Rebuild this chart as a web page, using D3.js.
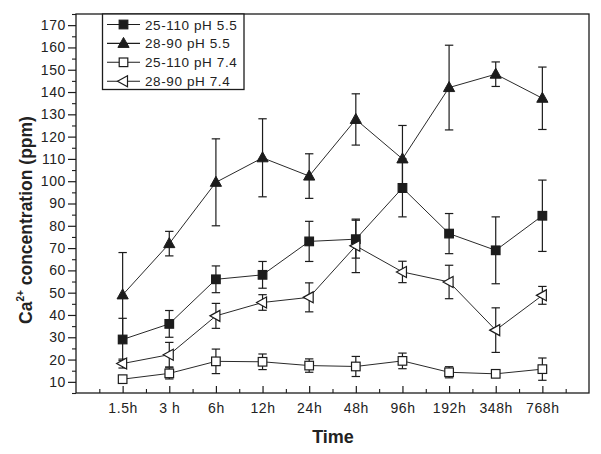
<!DOCTYPE html>
<html><head><meta charset="utf-8">
<script src="https://cdn.jsdelivr.net/npm/d3@7"></script>
<style>body{margin:0;background:#fff}</style>
</head><body>
<script>
const categories = ["1.5h","3 h","6h","12h","24h","48h","96h","192h","348h","768h"];
const seriesNames = ["25-110 pH 5.5","28-90 pH 5.5","25-110 pH 7.4","28-90 pH 7.4"];
const s1 = [29, 36, 56, 58, 73, 74, 97, 76.5, 69, 84.5];
const s1err = [9.5, 6, 6, 6, 9, 8.5, 13, 9, 15, 16];
const s2 = [49, 72, 99.5, 110.5, 102.3, 127.7, 110, 142, 148, 137.2];
const s2err = [19, 5.5, 19.5, 17.5, 10, 11.5, 15, 19, 5.5, 14];
const s3 = [11.2, 13.8, 19.2, 19, 17.3, 16.9, 19.4, 14.3, 13.6, 15.7];
const s3err = [1.5, 2.5, 5.5, 3.5, 3, 4.5, 3.5, 2.5, 1.5, 5];
const s4 = [18.2, 22.2, 39.6, 45.6, 47.9, 71, 59.3, 54.8, 33.2, 48.8];
const s4err = [2, 5.5, 5.6, 3.5, 6.5, 12, 4.8, 7.5, 10, 4];
const yTicks = [10,20,30,40,50,60,70,80,90,100,110,120,130,140,150,160,170];

const W = 601, H = 454;
const svg = d3.select("body").append("svg").attr("width", W).attr("height", H)
  .style("font-family", "'Liberation Sans', Arial, sans-serif");
const L = 76, R = 589, T = 14, B = 393;
const x = d3.scaleLinear().domain([0, 11]).range([L, R]);
const y = d3.scaleLinear().domain([5, 175]).range([B, T]);
const ink = "#1c1c1c";

// frame
svg.append("rect").attr("x", L).attr("y", T).attr("width", R - L).attr("height", B - T)
  .attr("fill", "none").attr("stroke", ink).attr("stroke-width", 1.3);

// y axis (ticks outward)
const yAxis = d3.axisLeft(y).tickValues(yTicks).tickSize(8).tickPadding(2).tickFormat(d3.format("d"));
const gy = svg.append("g").attr("transform", `translate(${L},0)`).call(yAxis);
gy.select(".domain").remove();
gy.selectAll("line").attr("stroke", ink).attr("stroke-width", 1.2);
gy.selectAll("text").attr("font-size", 14).attr("fill", "#222").attr("letter-spacing", 0.6);
const gym = svg.append("g").attr("transform", `translate(${L},0)`)
  .call(d3.axisLeft(y).tickValues(d3.range(5, 176, 10)).tickSize(4).tickFormat(""));
gym.select(".domain").remove();
gym.selectAll("line").attr("stroke", ink).attr("stroke-width", 1.1);

// x axis (ticks inward)
const xIdx = categories.map((c, i) => i + 1);
const xAxis = d3.axisBottom(x).tickValues(xIdx).tickSize(-7).tickPadding(10)
  .tickFormat((d) => categories[d - 1]);
const gx = svg.append("g").attr("transform", `translate(0,${B})`).call(xAxis);
gx.select(".domain").remove();
gx.selectAll("line").attr("stroke", ink).attr("stroke-width", 1.2);
gx.selectAll("text").attr("font-size", 14).attr("fill", "#222").attr("letter-spacing", 0.6);
const gxm = svg.append("g").attr("transform", `translate(0,${B})`)
  .call(d3.axisBottom(x).tickValues(d3.range(0.5, 11, 1)).tickSize(-4).tickFormat(""));
gxm.select(".domain").remove();
gxm.selectAll("line").attr("stroke", ink).attr("stroke-width", 1.1);

// axis titles
svg.append("text").attr("x", 333).attr("y", 443).attr("text-anchor", "middle")
  .attr("font-size", 18).attr("font-weight", "bold").attr("fill", "#222").text("Time");
const yt = svg.append("text").attr("transform", "translate(32,220) rotate(-90)")
  .attr("text-anchor", "middle").attr("font-size", 17.5).attr("font-weight", "bold").attr("fill", "#222");
yt.append("tspan").text("Ca");
yt.append("tspan").attr("font-size", 10).attr("dy", -8).text("2+");
yt.append("tspan").attr("dy", 8).text(" concentration (ppm)");

const series = [
  {vals: s1, err: s1err, shape: "square", fill: ink},
  {vals: s2, err: s2err, shape: "triangle", fill: ink},
  {vals: s3, err: s3err, shape: "square", fill: "#fff"},
  {vals: s4, err: s4err, shape: "ltri", fill: "#fff"}
];

function marker(g, shape, fill, cx, cy) {
  if (shape === "square") {
    g.append("rect").attr("x", cx - 4.3).attr("y", cy - 4.3).attr("width", 8.6).attr("height", 8.6)
      .attr("fill", fill).attr("stroke", ink).attr("stroke-width", 1.2);
  } else if (shape === "triangle") {
    g.append("path").attr("d", `M${cx},${cy - 6} L${cx + 5.6},${cy + 4} L${cx - 5.6},${cy + 4} Z`)
      .attr("fill", fill).attr("stroke", ink).attr("stroke-width", 1);
  } else {
    g.append("path").attr("d", `M${cx - 6},${cy} L${cx + 4},${cy - 5.5} L${cx + 4},${cy + 5.5} Z`)
      .attr("fill", fill).attr("stroke", ink).attr("stroke-width", 1.2);
  }
}

const line = d3.line().x((d, i) => x(i + 1)).y((d) => y(d));
// error bars first
series.forEach((s) => {
  const g = svg.append("g");
  s.vals.forEach((v, i) => {
    const cx = x(i + 1), hi = y(v + s.err[i]), lo = y(v - s.err[i]);
    g.append("line").attr("x1", cx).attr("x2", cx).attr("y1", hi).attr("y2", lo)
      .attr("stroke", ink).attr("stroke-width", 1.2);
    [hi, lo].forEach((yy) => g.append("line").attr("x1", cx - 4.2).attr("x2", cx + 4.2)
      .attr("y1", yy).attr("y2", yy).attr("stroke", ink).attr("stroke-width", 1.2));
  });
});
series.forEach((s) => {
  svg.append("path").datum(s.vals).attr("d", line).attr("fill", "none")
    .attr("stroke", "#2a2a2a").attr("stroke-width", 1);
});
series.forEach((s) => {
  const g = svg.append("g");
  s.vals.forEach((v, i) => marker(g, s.shape, s.fill, x(i + 1), y(v)));
});

// legend
const lg = svg.append("g");
lg.append("rect").attr("x", 102.5).attr("y", T).attr("width", 141.5).attr("height", 75.5)
  .attr("fill", "#fff").attr("stroke", ink).attr("stroke-width", 1.3);
seriesNames.forEach((n, i) => {
  const yy = 24.5 + i * 18.9;
  lg.append("line").attr("x1", 107).attr("x2", 140).attr("y1", yy).attr("y2", yy)
    .attr("stroke", ink).attr("stroke-width", 1.1);
  marker(lg, series[i].shape, series[i].fill, 123.5, yy);
  lg.append("text").attr("x", 145).attr("y", yy + 5).attr("font-size", 13.5)
    .attr("letter-spacing", 0.6).attr("fill", "#222").text(n);
});
</script>
</body></html>
